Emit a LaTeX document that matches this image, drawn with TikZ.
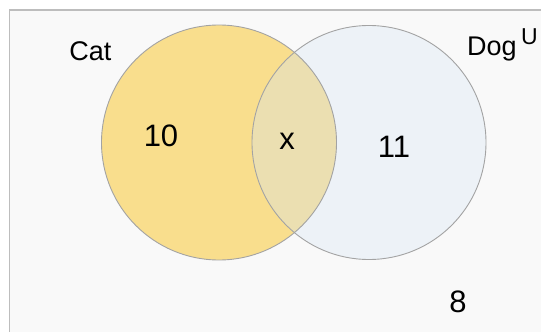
\documentclass[tikz,border=0pt]{standalone}
\usepackage{fontspec}
\setmainfont{Liberation Sans}
\definecolor{catfill}{HTML}{F9DE8D}
\definecolor{dogfill}{HTML}{EDF2F7}
\definecolor{lensfill}{HTML}{EBDFB1}
\definecolor{edge}{HTML}{A3A3A3}
\definecolor{framec}{HTML}{BDBDBD}
\definecolor{bgin}{HTML}{F9F9F9}
\tikzset{
  lbl/.style={inner sep=0pt, font=\fontsize{27}{32}\selectfont},
  num/.style={inner sep=0pt, font=\fontsize{31}{36}\selectfont},
  ring/.style={draw=edge, line width=0.9pt},
}
\begin{document}
\begin{tikzpicture}[x=1pt,y=-1pt]
\useasboundingbox (0,0) rectangle (541,332);
\fill[white] (0,0) rectangle (541,332);
\fill[bgin] (9.5,10) rectangle (545,340);
\draw[framec, line width=1.6pt] (9.5,340) -- (9.5,10) -- (545,10);
\coordinate (catc) at (219,142.5);
\coordinate (dogc) at (369,142.5);
\fill[catfill] (catc) circle (117.5);
\fill[dogfill] (dogc) circle (117);
\begin{scope}
  \clip (catc) circle (117.5);
  \fill[lensfill] (dogc) circle (117);
\end{scope}
\draw[ring] (catc) circle (117.5);
\draw[ring] (dogc) circle (117);
\node[lbl] (catlabel) at (90.5,51) {Cat};
\node[lbl] (doglabel) at (492,49) {Dog};
\node[inner sep=0pt, font=\fontsize{23}{28}\selectfont] (ulabel) at (529.5,36.5) {U};
\node[num] (n10) at (161,135.5) {10};
\node[num] (nx) at (287,141) {x};
\node[num] (n11) at (394,146.5) {11};
\node[num] (n8) at (458,302) {8};
\end{tikzpicture}
\end{document}
